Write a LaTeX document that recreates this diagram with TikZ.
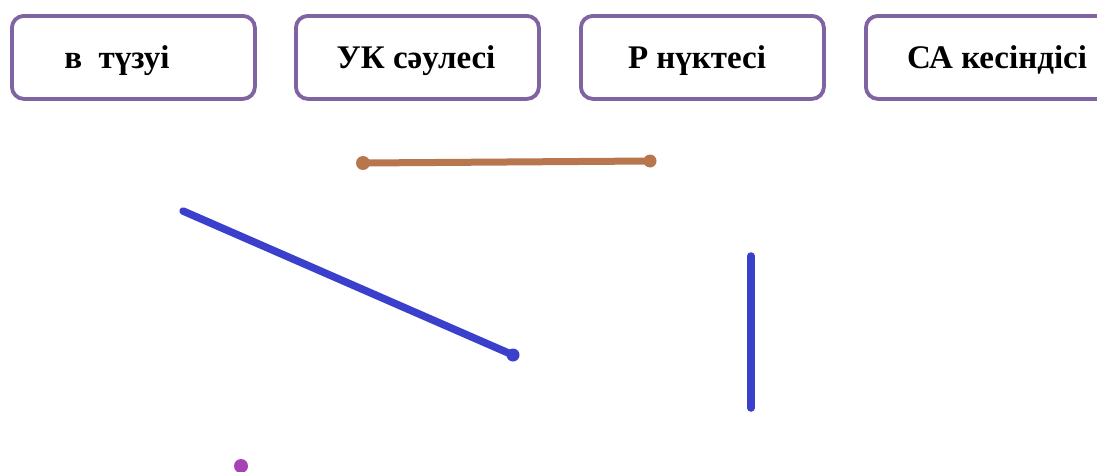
\documentclass[tikz,border=0pt]{standalone}
\usepackage{fontspec}
\setmainfont{Liberation Serif}
\definecolor{boxpurple}{HTML}{8064A2}
\definecolor{segbrown}{HTML}{B8764F}
\definecolor{segblue}{HTML}{3A40CC}
\definecolor{dotpurple}{HTML}{A543B5}
\begin{document}
\begin{tikzpicture}[x=1pt,y=-1pt,
  labelbox/.style={draw=boxpurple,line width=3.8pt,rounded corners=12pt,
    minimum width=243pt,minimum height=83pt,inner sep=0pt,
    anchor=north west,fill=white},
  labeltext/.style={font=\fontsize{33}{38}\selectfont\bfseries,inner sep=0pt,anchor=base},
  seg/.style={line width=7.5pt,line cap=round},
  enddot/.style={circle,inner sep=0pt,minimum size=13pt}]
\useasboundingbox (0,0) rectangle (1097,471);
\clip (0,0) rectangle (1097,471);
\node[labelbox] (b1) at (10,14) {};
\node[labelbox] (b2) at (294,14) {};
\node[labelbox] (b3) at (579,14) {};
\node[labelbox,minimum width=250pt] (b4) at (864,14) {};
\node[labeltext] (t1) at (117,68) {в\ \ түзуі};
\node[labeltext] (t2) at (416,68) {УК сәулесі};
\node[labeltext] (t3) at (697,68) {Р нүктесі};
\node[labeltext] (t4) at (997,68) {СА кесіндісі};
% brown segment
\coordinate (c1) at (363,163);
\coordinate (a1) at (650,161);
\draw[seg,segbrown,line width=7pt] (c1) -- (a1);
\node[enddot,fill=segbrown,minimum size=14pt] (dc) at (c1) {};
\node[enddot,fill=segbrown] (da) at (a1) {};
% blue ray
\coordinate (k1) at (183,211);
\coordinate (u1) at (513,355);
\draw[seg,segblue] (k1) -- (u1);
\node[enddot,fill=segblue] (du) at (u1) {};
% blue line
\coordinate (v1) at (751,256);
\coordinate (v2) at (751,408);
\draw[seg,segblue] (v1) -- (v2);
% point P
\node[enddot,fill=dotpurple,minimum size=14pt] (p) at (241,466) {};
\end{tikzpicture}
\end{document}
